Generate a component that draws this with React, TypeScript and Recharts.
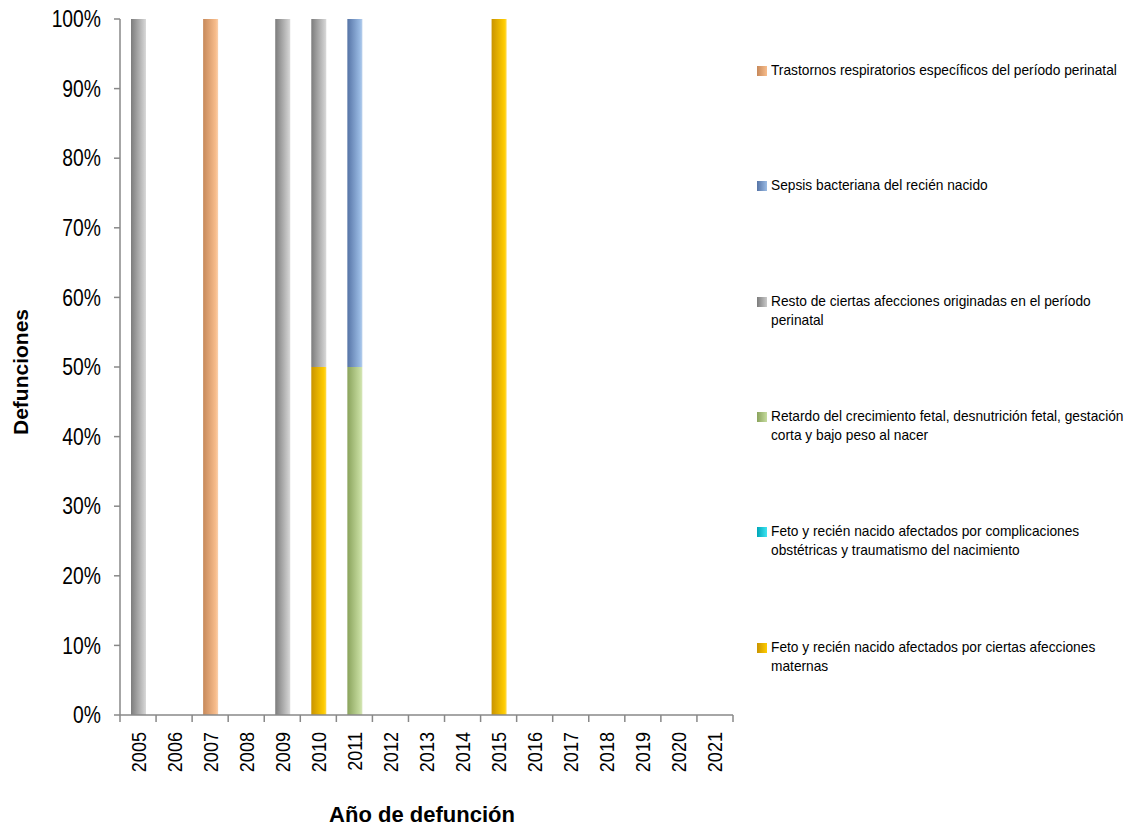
import { BarChart, Bar, XAxis, YAxis } from "recharts";

const years = ["2005", "2006", "2007", "2008", "2009", "2010", "2011", "2012", "2013", "2014", "2015", "2016", "2017", "2018", "2019", "2020", "2021"];

// defunciones por grupo de causa (stacked to 100%)
const maternas = [0, 0, 0, 0, 0, 1, 0, 0, 0, 0, 1, 0, 0, 0, 0, 0, 0];
const complicaciones = [0, 0, 0, 0, 0, 0, 0, 0, 0, 0, 0, 0, 0, 0, 0, 0, 0];
const retardo = [0, 0, 0, 0, 0, 0, 1, 0, 0, 0, 0, 0, 0, 0, 0, 0, 0];
const resto = [1, 0, 0, 0, 1, 1, 0, 0, 0, 0, 0, 0, 0, 0, 0, 0, 0];
const sepsis = [0, 0, 0, 0, 0, 0, 1, 0, 0, 0, 0, 0, 0, 0, 0, 0, 0];
const respiratorios = [0, 0, 1, 0, 0, 0, 0, 0, 0, 0, 0, 0, 0, 0, 0, 0, 0];

const yTicks = [0, 0.1, 0.2, 0.3, 0.4, 0.5, 0.6, 0.7, 0.8, 0.9, 1];

const series = [
  { key: "maternas", name: "Feto y recién nacido afectados por ciertas afecciones maternas", dark: "#c99400", light: "#ffcc00" },
  { key: "complicaciones", name: "Feto y recién nacido afectados por complicaciones obstétricas y traumatismo del nacimiento", dark: "#00a6b8", light: "#3ee4f2" },
  { key: "retardo", name: "Retardo del crecimiento fetal, desnutrición fetal, gestación corta y bajo peso al nacer", dark: "#8aa35c", light: "#c6dc9f" },
  { key: "resto", name: "Resto de ciertas afecciones originadas en el período perinatal", dark: "#7c7c7c", light: "#cacaca" },
  { key: "sepsis", name: "Sepsis bacteriana del recién nacido", dark: "#5674a6", light: "#9abbe4" },
  { key: "respiratorios", name: "Trastornos respiratorios específicos del período perinatal", dark: "#c7895a", light: "#f8bd8c" },
];

const data = years.map((year, i) => ({
  year,
  maternas: maternas[i],
  complicaciones: complicaciones[i],
  retardo: retardo[i],
  resto: resto[i],
  sepsis: sepsis[i],
  respiratorios: respiratorios[i],
}));

const FONT = "'Liberation Sans', Arial, sans-serif";
const AXIS = "#888888";
const PLOT_LEFT = 120;
const PLOT_RIGHT = 733;
const PLOT_TOP = 19;
const PLOT_BOTTOM = 715;
const HALF = (PLOT_RIGHT - PLOT_LEFT) / years.length / 2;

function YearTick(props: any) {
  const { x, y, payload, index } = props;
  const ty = y + 17;
  return (
    <g>
      <line x1={x - HALF} y1={y} x2={x - HALF} y2={y + 7} stroke={AXIS} strokeWidth={1.5} />
      {index === years.length - 1 && (
        <line x1={x + HALF} y1={y} x2={x + HALF} y2={y + 7} stroke={AXIS} strokeWidth={1.5} />
      )}
      <g transform={`translate(${x}, ${ty}) rotate(-90) scale(0.86, 1)`}>
        <text x={0} y={0} textAnchor="end" dominantBaseline="central" fontSize={21} fill="#000" fontFamily={FONT}>
          {payload.value}
        </text>
      </g>
    </g>
  );
}

function PercentTick(props: any) {
  const { y, payload } = props;
  return (
    <g transform={`translate(${PLOT_LEFT - 19}, ${y}) scale(0.84, 1)`}>
      <text x={0} y={0} textAnchor="end" dominantBaseline="central" fontSize={23} fill="#000" fontFamily={FONT}>
        {`${Math.round(payload.value * 100)}%`}
      </text>
    </g>
  );
}

function SideLegend() {
  const items = [...series].reverse();
  return (
    <div style={{ position: "absolute", left: 757, top: 0, width: 372, height: 700, fontFamily: FONT, fontSize: 15, color: "#000" }}>
      {items.map((s, i) => (
        <div key={s.key} style={{ position: "absolute", left: 0, top: 60 + i * 115.3, display: "flex", lineHeight: "19px" }}>
          <span
            style={{
              display: "inline-block",
              width: 10,
              height: 10,
              marginTop: 6,
              flex: "none",
              background: `linear-gradient(to right, ${s.dark}, ${s.light})`,
            }}
          />
          <span style={{ position: "absolute", left: 14, top: 0, width: 395, transform: "scaleX(0.915)", transformOrigin: "0 0" }}>
            {s.name}
          </span>
        </div>
      ))}
    </div>
  );
}

export default function App() {
  return (
    <div style={{ position: "absolute", left: 0, top: 0, width: 1129, height: 828, background: "#fff" }}>
      <BarChart
        width={1129}
        height={828}
        data={data}
        stackOffset="expand"
        barSize={15}
        margin={{ top: PLOT_TOP, right: 1129 - PLOT_RIGHT, bottom: 828 - PLOT_BOTTOM - 30, left: 0 }}
      >
        <defs>
          {series.map((s) => (
            <linearGradient key={s.key} id={`grad-${s.key}`} x1="0" y1="0" x2="1" y2="0">
              <stop offset="0%" stopColor={s.dark} />
              <stop offset="85%" stopColor={s.light} />
              <stop offset="100%" stopColor={s.light} stopOpacity={0.7} />
            </linearGradient>
          ))}
        </defs>
        <XAxis
          dataKey="year"
          height={30}
          tickLine={false}
          tickSize={0}
          tickMargin={0}
          interval={0}
          axisLine={{ stroke: AXIS, strokeWidth: 1.5 }}
          tick={<YearTick />}
        />
        <YAxis
          width={PLOT_LEFT}
          domain={[0, 1]}
          ticks={yTicks}
          tickSize={6}
          axisLine={{ stroke: AXIS, strokeWidth: 1.5 }}
          tickLine={{ stroke: AXIS, strokeWidth: 1.5 }}
          tick={<PercentTick />}
        />
        {series.map((s) => (
          <Bar
            key={s.key}
            dataKey={s.key}
            name={s.name}
            stackId="a"
            fill={`url(#grad-${s.key})`}
            isAnimationActive={false}
          />
        ))}
        <text x={20} y={372} transform="rotate(-90, 20, 372)" textAnchor="middle" dominantBaseline="central" fontSize={21} fontWeight="bold" fontFamily={FONT}>
          Defunciones
        </text>
        <text x={422} y={814} textAnchor="middle" dominantBaseline="central" fontSize={22} fontWeight="bold" fontFamily={FONT}>
          Año de defunción
        </text>
      </BarChart>
      <SideLegend />
    </div>
  );
}
